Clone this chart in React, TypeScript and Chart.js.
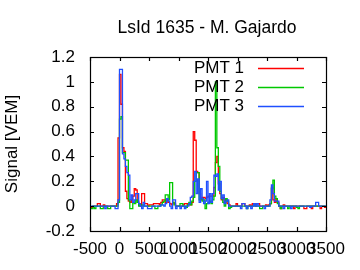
import React, { useEffect, useRef } from "react";
import { Chart, registerables } from "chart.js";

Chart.register(...registerables);

const TITLE = "LsId 1635 - M. Gajardo";
const Y_LABEL = "Signal [VEM]";
const FONT = "'Liberation Sans', Arial, sans-serif";

// time bins (ns): start and width of each bin
const BIN_START = -500;
const BIN_WIDTH = 25;
const X_MIN = -500;
const X_MAX = 3500;
const X_STEP = 500;
const Y_MIN = -0.2;
const Y_MAX = 1.2;
const Y_STEP = 0.2;

const SERIES_NAMES = ["PMT 1", "PMT 2", "PMT 3"];
const SERIES_COLORS = ["#ff0000", "#00c800", "#1f4fff"];

// PMT 1 (red), one value per 25-unit bin from -500 to 3500
const pmt1 = [
  -0.01, -0.01, 0, 0, 0, 0.02, 0.02, 0, 0, 0.01, 0, 0, 0, 0, 0, 0, 0, 0, 0.02, 0.55,
  1.06, 0.82, 0.47, 0.44, 0.12, 0.06, 0.04, 0.03, 0.05, 0.08, 0.14, 0.13, 0.04, 0.02, 0, 0.1, 0.1, 0.02, 0.02, 0,
  0.01, 0.01, 0.01, 0.02, 0.02, 0.02, 0.02, 0.01, 0.03, 0.05, 0.05, 0.03, 0.05, 0.03, 0.02, 0.01, 0.03, 0.02, 0, 0,
  0, 0, 0, 0.01, 0.02, 0.02, 0.01, 0.02, 0.01, 0.03, 0.6, 0.53, 0.28, 0.27, 0.1, 0.05, 0.07, 0.07, 0.06, 0.07,
  0.08, 0.08, 0.08, 0.08, 0.15, 0.35, 0.4, 0.18, 0.1, 0.05, 0.07, 0.03, 0.05, 0.02, 0.01, 0, 0, 0, 0, 0.02,
  0, 0, 0, 0.02, 0.02, 0, 0, 0, 0.01, 0, 0.02, 0.02, 0, 0.02, 0.02, 0, 0, 0, 0, 0.01,
  0, 0.01, 0.02, 0.15, 0.05, 0.03, 0.06, 0.03, 0, -0.02, 0, 0.01, 0, 0, 0, 0, 0, 0, -0.02, 0,
  0, 0, 0, 0, 0, -0.02, -0.02, 0, 0, 0, -0.02, 0, 0, 0, 0, 0, -0.02, 0, 0, -0.01,
];

// PMT 2 (green)
const pmt2 = [
  -0.02, -0.02, 0, -0.02, 0, 0, 0, -0.02, -0.02, 0, 0, 0, -0.02, -0.02, 0, 0, 0, 0, 0, 0.03,
  0.7, 0.72, 0.43, 0.43, 0.37, 0.37, 0.05, -0.02, -0.02, 0.03, 0.02, 0.05, 0.03, 0, 0.01, 0.01, 0, 0, 0, 0,
  0, 0, 0, 0, -0.02, -0.02, 0, 0, 0.01, 0.03, 0.04, 0.09, 0.09, 0.05, 0.19, 0.19, 0.03, 0.01, 0, 0,
  0, 0.02, 0.02, 0, 0, -0.01, 0.01, 0.03, 0.01, 0.04, 0.07, 0.2, 0.27, 0.27, 0.05, 0.06, 0.04, 0.05, -0.02, 0.02,
  0.03, 0.04, 0.02, 0.05, 0.08, 1.0, 0.47, 0.32, 0.12, 0.06, 0.03, 0, 0.06, 0.04, -0.02, -0.01, 0, 0, 0, 0,
  0, 0, 0, 0, 0, 0, -0.02, 0, 0, 0, 0, 0.01, 0, 0, 0, -0.02, -0.02, 0, 0, 0,
  0, 0, 0.02, 0.14, 0.21, 0.08, 0.06, 0.02, 0, -0.02, 0, 0, 0, 0, -0.02, 0, 0, 0, 0, 0,
  -0.01, -0.02, 0, 0, 0, 0, 0, 0, 0, 0, 0, 0, 0, 0, 0, 0, 0, 0, 0, 0,
];

// PMT 3 (blue)
const pmt3 = [
  0, 0, 0, 0, 0, 0, 0, 0, 0, 0, -0.02, 0, 0, 0, 0, 0, 0, -0.02, -0.02, 0.05,
  1.1, 1.1, 0.42, 0.38, 0.32, 0.27, 0.25, 0.05, 0.09, 0.03, 0.05, 0.1, 0.1, 0.02, 0, -0.02, 0.03, 0, 0, -0.02,
  -0.02, -0.02, 0, 0, 0, 0, 0, 0, 0.01, 0.01, 0, 0.02, 0.06, 0.04, 0, -0.02, 0.05, 0.05, -0.02, 0,
  0, -0.02, 0, 0, -0.02, 0, 0, 0.02, 0.07, 0.08, 0.2, 0.28, 0.1, 0.22, 0.03, 0.14, 0.06, 0.02, 0.04, 0.2,
  0.02, 0.1, 0.03, 0.1, 0.25, 0.24, 0.26, 0.13, 0.2, 0.06, 0.09, 0.02, 0.04, 0.05, 0, 0, 0, 0, 0, 0,
  0, 0, -0.02, 0.02, 0.02, 0, -0.02, 0, 0, -0.02, 0, 0.02, 0, 0.02, 0, 0, 0, 0, -0.02, 0,
  0, 0, 0.05, 0.17, 0.1, 0.04, 0.04, 0.04, 0, 0, 0, -0.02, 0, 0, 0, 0, -0.02, 0, 0, 0,
  0, 0, 0, 0, 0, 0, 0, 0, 0, -0.01, 0, 0, 0, 0.03, 0.03, 0, 0, 0, 0, 0,
];

const SERIES = [pmt1, pmt2, pmt3];

function toSteps(values: number[]) {
  const pts = values.map((v, i) => ({ x: BIN_START + i * BIN_WIDTH, y: v }));
  pts.push({ x: BIN_START + values.length * BIN_WIDTH, y: values[values.length - 1] });
  return pts;
}

const gnuplotPlugin = {
  id: "gnuplotFrame",
  afterDraw(chart: any) {
    const { ctx, chartArea } = chart;
    const { left, right, top, bottom } = chartArea;
    const xs = chart.scales.x;
    const ys = chart.scales.y;
    ctx.save();
    ctx.strokeStyle = "#000";
    ctx.lineWidth = 1.2;
    ctx.strokeRect(left + 0.5, top + 0.5, right - left, bottom - top);
    const TL = 4;
    ctx.beginPath();
    for (let v = X_MIN; v <= X_MAX; v += X_STEP) {
      const p = Math.round(xs.getPixelForValue(v)) + 0.5;
      ctx.moveTo(p, bottom);
      ctx.lineTo(p, bottom - TL);
      ctx.moveTo(p, top);
      ctx.lineTo(p, top + TL);
    }
    for (let k = 0; k <= Math.round((Y_MAX - Y_MIN) / Y_STEP); k++) {
      const v = Y_MIN + k * Y_STEP;
      const p = Math.round(ys.getPixelForValue(v)) + 0.5;
      ctx.moveTo(left, p);
      ctx.lineTo(left + TL, p);
      ctx.moveTo(right, p);
      ctx.lineTo(right - TL, p);
    }
    ctx.stroke();

    // title
    ctx.fillStyle = "#000";
    ctx.font = `17.5px ${FONT}`;
    ctx.textAlign = "center";
    ctx.textBaseline = "middle";
    ctx.fillText(TITLE, (left + right) / 2 - 1, 28);

    // key (gnuplot style: text then sample line)
    ctx.font = `17px ${FONT}`;
    const datasets = chart.data.datasets;
    datasets.forEach((ds: any, i: number) => {
      const yRow = top + 11 + i * 19;
      ctx.textAlign = "right";
      ctx.fillStyle = "#000";
      ctx.fillText(ds.label, 244, yRow);
      ctx.strokeStyle = ds.borderColor;
      ctx.lineWidth = 1.3;
      ctx.beginPath();
      ctx.moveTo(258, yRow + 0.5);
      ctx.lineTo(304, yRow + 0.5);
      ctx.stroke();
    });
    ctx.restore();
  },
};

export default function App() {
  const ref = useRef<HTMLCanvasElement>(null);
  useEffect(() => {
    const canvas = ref.current;
    if (!canvas) return;
    const chart = new Chart(canvas, {
      type: "line",
      data: {
        datasets: SERIES.map((vals, i) => ({
          label: SERIES_NAMES[i],
          data: toSteps(vals),
          borderColor: SERIES_COLORS[i],
          borderWidth: 1.3,
          pointRadius: 0,
          fill: false,
          stepped: "before" as const,
          order: SERIES.length - 1 - i,
        })),
      },
      options: {
        animation: false,
        responsive: false,
        events: [],
        layout: { padding: { top: 57, right: 34, left: 0, bottom: 0 } },
        plugins: {
          legend: { display: false },
          tooltip: { enabled: false },
          title: { display: false },
        },
        scales: {
          x: {
            type: "linear",
            min: X_MIN,
            max: X_MAX,
            grid: { display: false, drawTicks: false },
            border: { display: false },
            ticks: {
              stepSize: X_STEP,
              autoSkip: false,
              maxRotation: 0,
              minRotation: 0,
              color: "#000",
              padding: 8,
              font: { family: FONT, size: 17 },
              callback: (v: any) => String(Math.round(Number(v))),
            },
            afterFit: (s: any) => {
              s.height = 39;
            },
          },
          y: {
            type: "linear",
            min: Y_MIN,
            max: Y_MAX,
            grid: { display: false, drawTicks: false },
            border: { display: false },
            ticks: {
              stepSize: Y_STEP,
              color: "#000",
              padding: 15,
              font: { family: FONT, size: 17 },
              callback: (v: any) => String(Number(Number(v).toFixed(1))),
            },
            title: {
              display: true,
              text: Y_LABEL,
              color: "#000",
              font: { family: FONT, size: 17 },
              padding: { top: 2, bottom: 0 },
            },
            afterFit: (s: any) => {
              s.width = 90;
            },
          },
        },
      },
      plugins: [gnuplotPlugin],
    } as any);
    return () => chart.destroy();
  }, []);
  return (
    <div style={{ position: "absolute", left: 0, top: 0, width: 360, height: 270, background: "#fff" }}>
      <canvas ref={ref} width={360} height={270} style={{ display: "block" }} />
    </div>
  );
}
